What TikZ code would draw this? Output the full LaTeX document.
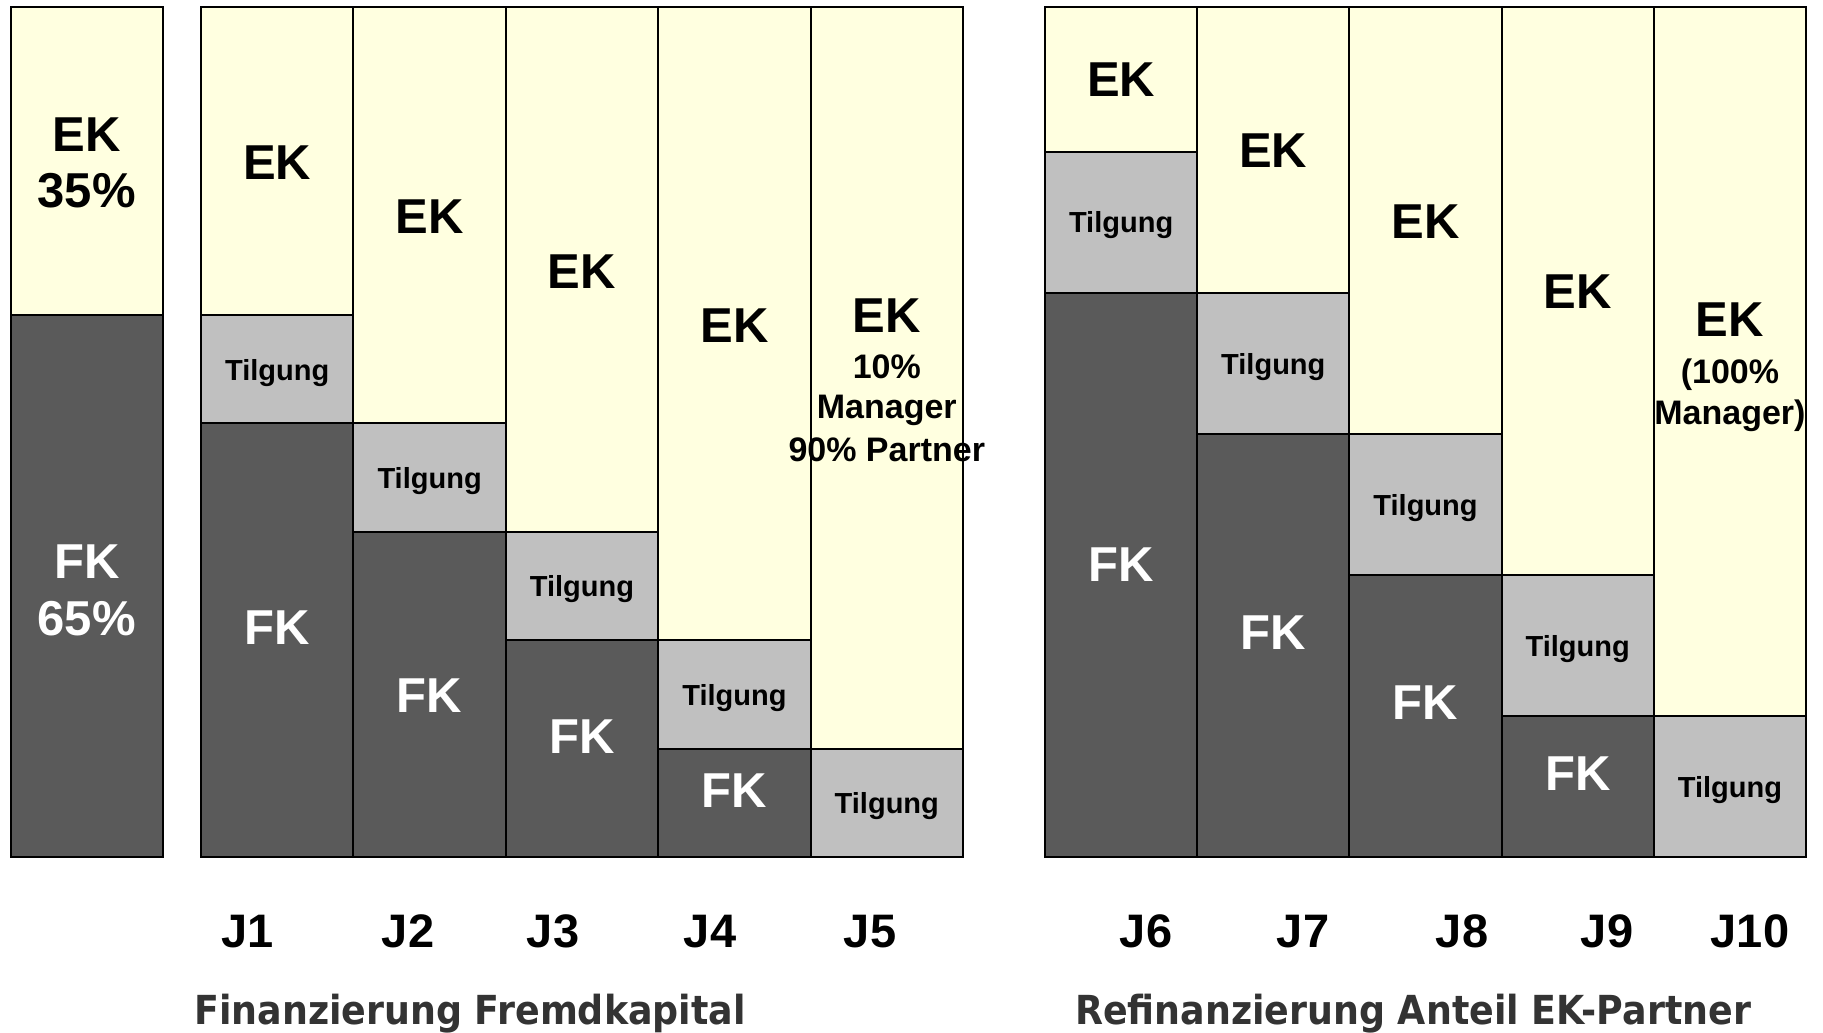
\documentclass[tikz,border=0pt]{standalone}
\usepackage{fontspec}
\setmainfont{Liberation Sans}
\newfontfamily\titlefont{DejaVu Sans}
\definecolor{ekcol}{RGB}{255,255,224}
\definecolor{tilgcol}{RGB}{192,192,192}
\definecolor{fkcol}{RGB}{90,90,90}
\definecolor{titlecol}{RGB}{51,51,51}
\tikzset{
  seg/.style={draw=black, line width=1pt},
  ekseg/.style={seg, fill=ekcol},
  tilgseg/.style={seg, fill=tilgcol},
  fkseg/.style={seg, fill=fkcol},
  big/.style={font=\fontsize{24.5}{29}\selectfont\bfseries, anchor=base, inner sep=0pt},
  bigw/.style={big, text=white},
  mid/.style={font=\fontsize{17}{20}\selectfont\bfseries, anchor=base, inner sep=0pt},
  tilg/.style={font=\fontsize{14.5}{17}\selectfont\bfseries, anchor=base, inner sep=0pt},
  jlab/.style={font=\fontsize{23.5}{28}\selectfont\bfseries, anchor=base, inner sep=0pt},
  ttl/.style={font=\titlefont\fontsize{20}{24}\selectfont\bfseries, text=titlecol, anchor=base, inner sep=0pt}
}
\begin{document}
\begin{tikzpicture}[x=0.5pt,y=-0.5pt]
\useasboundingbox (0,0) rectangle (1823,1032);
% ---- bar 0
\path[ekseg] (10.5,7) rectangle (163,315);
\path[fkseg] (10.5,315) rectangle (163,857);
% ---- group 1 (J1..J5)
\foreach \i in {0,...,4}{
  \pgfmathsetmacro{\xa}{201+152.4*\i}
  \pgfmathsetmacro{\xb}{201+152.4*(\i+1)}
  \pgfmathsetmacro{\la}{315+108.4*\i}
  \pgfmathsetmacro{\lb}{315+108.4*(\i+1)}
  \path[ekseg] (\xa,7) rectangle (\xb,\la);
  \path[tilgseg] (\xa,\la) rectangle (\xb,\lb);
  \ifnum\i<4 \path[fkseg] (\xa,\lb) rectangle (\xb,857);\fi
}
% ---- group 2 (J6..J10)
\foreach \i in {0,...,4}{
  \pgfmathsetmacro{\xa}{1045+152.2*\i}
  \pgfmathsetmacro{\xb}{1045+152.2*(\i+1)}
  \pgfmathsetmacro{\la}{152+141*\i}
  \pgfmathsetmacro{\lb}{152+141*(\i+1)}
  \path[ekseg] (\xa,7) rectangle (\xb,\la);
  \path[tilgseg] (\xa,\la) rectangle (\xb,\lb);
  \ifnum\i<4 \path[fkseg] (\xa,\lb) rectangle (\xb,857);\fi
}
% ---- texts bar 0
\node[big] (ek0) at (86.75,152) {EK};
\node[big] (ek0p) at (86.75,207) {35\%};
\node[bigw] (fk0) at (86.75,578) {FK};
\node[bigw] (fk0p) at (86.75,635) {65\%};
% ---- texts group 1
\node[big] (ek1) at (277.2,180) {EK};
\node[big] (ek2) at (429.6,234) {EK};
\node[big] (ek3) at (582,288) {EK};
\node[big] (ek4) at (734.4,342) {EK};
\node[big] (ek5) at (886.8,332) {EK};
\node[mid] (ek5a) at (886.8,378) {10\%};
\node[mid] (ek5b) at (886.8,418) {Manager};
\node[mid] (ek5c) at (886.8,461) {90\% Partner};
\node[tilg] (t1) at (277.2,380) {Tilgung};
\node[tilg] (t2) at (429.6,488) {Tilgung};
\node[tilg] (t3) at (582,596.5) {Tilgung};
\node[tilg] (t4) at (734.4,705) {Tilgung};
\node[tilg] (t5) at (886.8,813) {Tilgung};
\node[bigw] (fk1) at (277.2,644) {FK};
\node[bigw] (fk2) at (429.6,712) {FK};
\node[bigw] (fk3) at (582,753) {FK};
\node[bigw] (fk4) at (734.4,807) {FK};
% ---- texts group 2
\node[big] (ek6) at (1121.1,97) {EK};
\node[big] (ek7) at (1273.3,168) {EK};
\node[big] (ek8) at (1425.5,238.5) {EK};
\node[big] (ek9) at (1577.7,308.5) {EK};
\node[big] (ek10) at (1729.9,336) {EK};
\node[mid] (ek10a) at (1729.9,383) {(100\%};
\node[mid] (ek10b) at (1729.9,424) {Manager)};
\node[tilg] (t6) at (1121.1,233) {Tilgung};
\node[tilg] (t7) at (1273.3,374) {Tilgung};
\node[tilg] (t8) at (1425.5,515) {Tilgung};
\node[tilg] (t9) at (1577.7,656) {Tilgung};
\node[tilg] (t10) at (1729.9,797) {Tilgung};
\node[bigw] (fk6) at (1121.1,581) {FK};
\node[bigw] (fk7) at (1273.3,649) {FK};
\node[bigw] (fk8) at (1425.5,719.5) {FK};
\node[bigw] (fk9) at (1577.7,790) {FK};
% ---- year labels
\node[jlab] (j1) at (247.7,947) {J1};
\node[jlab] (j2) at (408,947) {J2};
\node[jlab] (j3) at (553,947) {J3};
\node[jlab] (j4) at (710,947) {J4};
\node[jlab] (j5) at (870,947) {J5};
\node[jlab] (j6) at (1146,947) {J6};
\node[jlab] (j7) at (1303,947) {J7};
\node[jlab] (j8) at (1462,947) {J8};
\node[jlab] (j9) at (1607,947) {J9};
\node[jlab] (j10) at (1750,947) {J10};
% ---- titles
\node[ttl] (title1) at (470,1024) {\scalebox{0.91}[1]{Finanzierung Fremdkapital}};
\node[ttl] (title2) at (1413,1024) {\scalebox{0.91}[1]{Refinanzierung Anteil EK-Partner}};
\end{tikzpicture}
\end{document}
